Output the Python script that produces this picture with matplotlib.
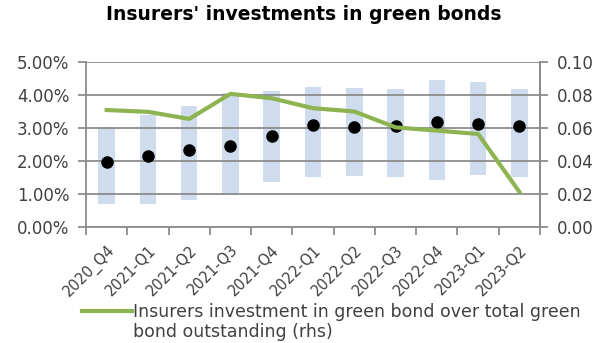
import matplotlib.pyplot as plt
import numpy as np

quarters = ["2020_Q4", "2021-Q1", "2021-Q2", "2021-Q3", "2021-Q4", "2022-Q1",
            "2022-Q2", "2022-Q3", "2022-Q4", "2023-Q1", "2023-Q2"]
range_low = [0.69, 0.69, 0.83, 0.96, 1.37, 1.52, 1.55, 1.52, 1.42, 1.58, 1.52]
range_high = [3.02, 3.40, 3.67, 4.07, 4.13, 4.24, 4.21, 4.18, 4.45, 4.38, 4.18]
median_share = [1.98, 2.15, 2.33, 2.46, 2.77, 3.08, 3.04, 3.06, 3.19, 3.12, 3.07]
insurers_share_rhs = [0.0709, 0.0698, 0.0655, 0.0807, 0.0780, 0.0720,
                      0.0700, 0.0604, 0.0584, 0.0564, 0.0213]
legend_lines = ["Insurers investment in green bond over total green",
                "bond outstanding (rhs)"]

text_col = "#404040"
grid_col = "#8c8c8c"

plt.rcParams["font.family"] = ["DejaVu Sans"]

fig = plt.figure(figsize=(6.03, 3.43), dpi=100)
ax = fig.add_axes([86 / 603, 1 - 227 / 343, 454 / 603, 165 / 343])

x = np.arange(len(quarters))
heights = np.array(range_high) - np.array(range_low)
ax.bar(x, heights, bottom=range_low, width=0.4, color="#cfdcee", zorder=1)
ax.plot(x, median_share, "o", color="black", markersize=8, zorder=4)

ax.set_xlim(-0.5, len(quarters) - 0.5)
ax.set_ylim(0, 5)
ax.set_yticks(np.arange(0, 5.01, 1))
ax.set_yticklabels([f"{v:.2f}%" for v in np.arange(0, 5.01, 1)])
ax.yaxis.grid(True, color=grid_col, linewidth=1.3, zorder=2)
ax.set_axisbelow(False)

ax.set_xticks(x)
ax.set_xticklabels(quarters, rotation=45, ha="right", rotation_mode="anchor")
ax.set_xticks(np.arange(-0.5, len(quarters), 1), minor=True)
ax.tick_params(axis="x", which="major", length=0, pad=11, labelsize=10.5, colors=text_col)
ax.tick_params(axis="x", which="minor", length=5.5, color=grid_col, width=1.3)
ax.tick_params(axis="y", length=5.5, color=grid_col, width=1.3, labelsize=12,
               colors=text_col, pad=6.5)

ax.spines["top"].set_visible(False)
for side in ["left", "bottom", "right"]:
    ax.spines[side].set_color(grid_col)
    ax.spines[side].set_linewidth(1.3)

ax2 = ax.twinx()
line, = ax2.plot(x, insurers_share_rhs, color="#8db451", linewidth=3, zorder=5)
ax2.set_ylim(0, 0.10)
ax2.set_yticks(np.arange(0, 0.101, 0.02))
ax2.set_yticklabels([f"{v:.2f}" for v in np.arange(0, 0.101, 0.02)])
ax2.tick_params(axis="y", length=5.5, color=grid_col, width=1.3, labelsize=12,
                colors=text_col, pad=6.5)
for side in ["top", "left", "bottom"]:
    ax2.spines[side].set_visible(False)
ax2.spines["right"].set_color(grid_col)
ax2.spines["right"].set_linewidth(1.3)

fig.text(0.503, 1 - 15 / 343, "Insurers' investments in green bonds", ha="center",
         va="center", fontsize=13.5, fontweight="bold", color="black")

fig.legend([line], [legend_lines[0]],
           loc="upper left", bbox_to_anchor=(82 / 603, 1 - 303 / 343), frameon=False,
           fontsize=12.5, labelcolor=text_col, handlelength=2.87, handletextpad=0.06,
           borderaxespad=0, borderpad=0)
fig.text(133 / 603, 1 - 332 / 343, legend_lines[1], ha="left", va="center",
         fontsize=12.5, color=text_col)

fig.savefig("out.png", dpi=100)
